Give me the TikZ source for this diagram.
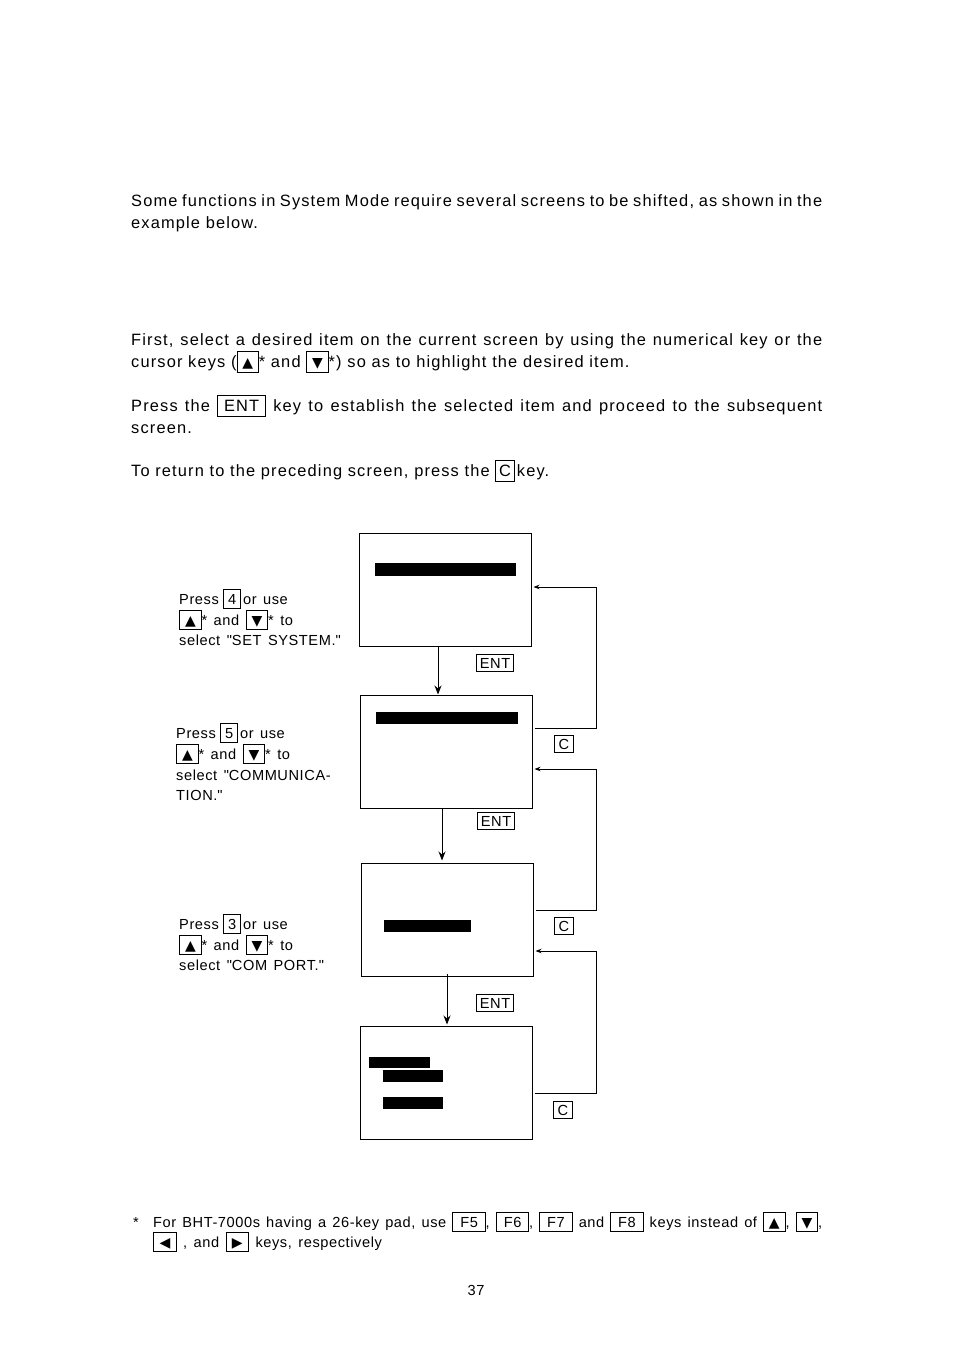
\documentclass[tikz,border=0pt]{standalone}
\usepackage{fontspec}
\setmainfont{Liberation Sans}
\newfontfamily\bodyfam{Liberation Sans}[LetterSpace=7]
\newfontfamily\labfam{Liberation Sans}[LetterSpace=4]
\newfontfamily\symf{DejaVu Sans}
\usetikzlibrary{arrows.meta}
\newlength\kdp \newlength\kht
\setlength\kdp{4pt}\setlength\kht{18pt}
\newcommand\kbox[2][4pt]{{\setlength\fboxsep{0pt}\setlength\fboxrule{0.8pt}\fbox{\rule[-\kdp]{0pt}{\kht}\hspace{#1}#2\hspace{#1}}}}
\newcommand\tup{{\symf\fontsize{14}{14}\selectfont ▲}}
\newcommand\tdn{{\symf\fontsize{14}{14}\selectfont ▼}}
\newcommand\tlf{{\symf\fontsize{14}{14}\selectfont ◀}}
\newcommand\trt{{\symf\fontsize{14}{14}\selectfont ▶}}
\newcommand\q{\textquotedbl}
\newcommand\bodyf{\bodyfam\fontsize{16.4}{18}\selectfont\setlength\kdp{5pt}\setlength\kht{20pt}}
\newcommand\labf{\labfam\fontsize{14.6}{17}\selectfont\spaceskip=6.5pt plus 3pt minus 1pt\setlength\kdp{4pt}\setlength\kht{18pt}}
\begin{document}
\begin{tikzpicture}[x=1pt,y=-1pt,
  every node/.style={inner sep=0pt},
  body/.style={anchor=base west,font=\bodyf},
  lab/.style={anchor=base west,font=\labf},
  screen/.style={draw,line width=1pt,minimum width=172pt,minimum height=113pt},
  bar/.style={fill=black},
  keyl/.style={draw,line width=0.8pt,font=\labf,inner xsep=3pt,text height=11pt,text depth=1pt,inner ysep=2.5pt},
  arr/.style={line width=0.9pt,-{Stealth[length=9pt,width=7pt]}},
  ret/.style={line width=0.9pt,-{Stealth[length=6pt,width=4.5pt]}}
]
\fill[white] (0,0) rectangle (954,1348);
\useasboundingbox (0,0) rectangle (954,1348);

% body text
\node[body] (t1) at (131,207) {\makebox[691pt][s]{Some functions in System Mode require several screens to be shifted, as shown in the}};
\node[body] (t2) at (131,229) {example below.};
\node[body] (t3) at (131,345) {\makebox[691pt][s]{First, select a desired item on the current screen by using the numerical key or the}};
\node[body] (t4) at (131,367) {cursor keys (\kbox[5pt]{\tup}* and \kbox[5pt]{\tdn}*) so as to highlight the desired item.};
\node[body] (t5) at (131,411) {\makebox[691pt][s]{Press the \kbox[6pt]{ENT} key to establish the selected item and proceed to the subsequent}};
\node[body] (t6) at (131,433) {screen.};
\node[body] (t7) at (131,476) {To return to the preceding screen, press the \kbox[3pt]{C}\hspace{2pt}key.};

% screens
\node[screen] (S1) at (445,589.5) {};
\node[screen] (S2) at (446,751.5) {};
\node[screen] (S3) at (447,919.5) {};
\node[screen] (S4) at (446,1082.5) {};
\fill[bar] (375,563) rectangle (516,576);
\fill[bar] (376,712) rectangle (518,724);
\fill[bar] (384,920) rectangle (471,932);
\fill[bar] (369,1057) rectangle (430,1068);
\fill[bar] (383,1070) rectangle (443,1082);
\fill[bar] (383,1097) rectangle (443,1109);

% ENT arrows
\draw[arr] ([xshift=-7pt]S1.south) -- ([xshift=-7pt]S1.south |- S2.north);
\draw[arr] ([xshift=-4pt]S2.south) -- ([xshift=-4pt,yshift=2pt]S2.south |- S3.north);
\draw[arr] ([yshift=3pt]S3.south) -- ([yshift=1pt]S3.south |- S4.north);
\node[keyl] (e1) at (495,663) {ENT};
\node[keyl] (e2) at (496,821) {ENT};
\node[keyl] (e3) at (495,1003) {ENT};

% C return lines
\draw[ret] ([shift={(2pt,23.5pt)}]S2.east) -- ++(62,0) |- ([shift={(2pt,2.5pt)}]S1.east);
\draw[ret] ([shift={(2pt,9.5pt)}]S3.east) -- ++(61,0) |- ([shift={(2pt,-17.5pt)}]S2.east);
\draw[ret] ([shift={(2pt,-10.5pt)}]S4.east) -- ++(62,0) |- ([shift={(2pt,-31.5pt)}]S3.east);
\node[keyl,inner xsep=4.5pt] (c1) at (564,744) {C};
\node[keyl,inner xsep=4.5pt] (c2) at (564,926) {C};
\node[keyl,inner xsep=4.5pt] (c3) at (563,1110) {C};

% left labels
\node[lab] (l1a) at (179,604) {Press\hspace{4.5pt}\kbox{4}\hspace{2pt}or use};
\node[lab] (l1b) at (179,625) {\kbox[5pt]{\tup}* and \kbox[5pt]{\tdn}* to};
\node[lab] (l1c) at (179,645) {select \q SET SYSTEM.\q};
\node[lab] (l2a) at (176,738) {Press\hspace{4.5pt}\kbox{5}\hspace{2pt}or use};
\node[lab] (l2b) at (176,759) {\kbox[5pt]{\tup}* and \kbox[5pt]{\tdn}* to};
\node[lab] (l2c) at (176,780) {select \q COMMUNICA-};
\node[lab] (l2d) at (176,800) {TION.\q};
\node[lab] (l3a) at (179,929) {Press\hspace{4.5pt}\kbox{3}\hspace{2pt}or use};
\node[lab] (l3b) at (179,950) {\kbox[5pt]{\tup}* and \kbox[5pt]{\tdn}* to};
\node[lab] (l3c) at (179,970) {select \q COM PORT.\q};

% footnote
\node[lab] (fs) at (133,1227) {*};
\node[lab] (f1) at (153,1227) {\makebox[669pt][s]{For BHT-7000s having a 26-key pad, use \kbox[7pt]{F5}, \kbox[7pt]{F6}, \kbox[7pt]{F7} and \kbox[7pt]{F8} keys instead of \kbox[5pt]{\tup}, \kbox[5pt]{\tdn},}};
\node[lab] (f2) at (153,1247) {\kbox[5.5pt]{\tlf} , and \kbox[5.5pt]{\trt} keys, respectively};
\node[lab,anchor=base] (pg) at (476,1295) {37};
\end{tikzpicture}
\end{document}
